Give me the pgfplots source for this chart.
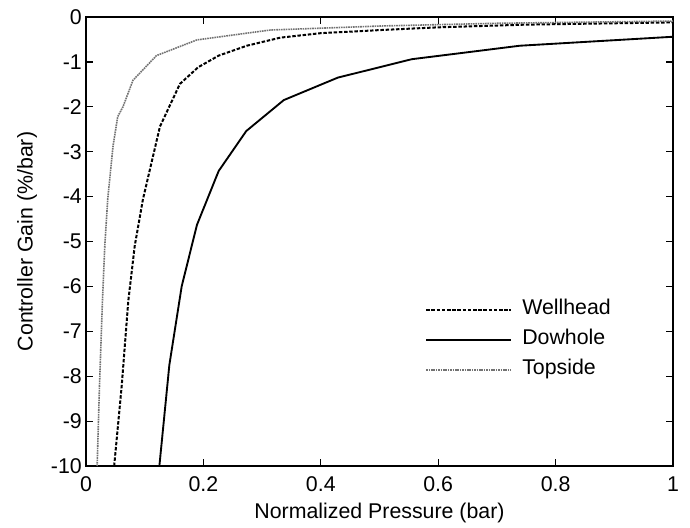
\documentclass[border=0pt]{standalone}
\usepackage{fontspec}
\setmainfont{Liberation Sans}
\usepackage{pgfplots}
\pgfplotsset{compat=1.18}
\newcommand{\ff}{\fontsize{16}{19}\selectfont}
\begin{document}
\begin{tikzpicture}
\path (0,0) rectangle (517.5pt,-396pt);
\begin{axis}[
  at={(64.5pt,-349.5pt)}, anchor=south west,
  scale only axis, width=440.25pt, height=336.75pt,
  xmin=0, xmax=1, ymin=-10, ymax=0,
  axis line style={line width=0.9pt},
  every tick/.style={line width=0.9pt, black},
  major tick length=5pt,
  tick align=inside,
  xtick={0,0.2,0.4,0.6,0.8,1},
  xticklabels={0,0.2,0.4,0.6,0.8,1},
  ytick={-10,-9,-8,-7,-6,-5,-4,-3,-2,-1,0},
  yticklabels={-10,-9,-8,-7,-6,-5,-4,-3,-2,-1,0},
  xticklabel style={font=\ff, inner sep=0pt, anchor=north, yshift=-8pt},
  yticklabel style={font=\ff, inner sep=0pt, anchor=east, xshift=-3pt},
  xlabel={Normalized Pressure (bar)},
  ylabel={Controller Gain (\%/bar)},
  xlabel style={font=\ff, at={(axis description cs:0.5,-0.105)}, anchor=center},
  ylabel style={font=\ff, at={(axis description cs:-0.1005,0.5)}, anchor=center},
  legend style={font=\ff, draw=none, fill=none, inner sep=0pt,
    at={(0.5775,0.373)}, anchor=north west, row sep=6.5pt, column sep=7.5pt,
    nodes={inner sep=0pt, text height=12pt, text depth=4pt, anchor=base west}},
  legend cell align=left,
  legend image code/.code={\draw[#1] (0pt,0.36em) -- (63.75pt,0.36em);},
]
\addplot[black, line width=1.5pt, dash pattern=on 2.6pt off 1.3pt] coordinates {
(0.048,-10) (0.061,-8.19) (0.072,-6.33) (0.083,-5.1) (0.097,-4.06) (0.126,-2.44)
(0.16,-1.49) (0.191,-1.12) (0.226,-0.86) (0.274,-0.64) (0.331,-0.46) (0.4,-0.36)
(0.503,-0.29) (0.6,-0.23) (0.75,-0.17) (1,-0.12)};
\addlegendentry{Wellhead}
\addplot[black, line width=1.4pt] coordinates {
(0.125,-10) (0.142,-7.75) (0.163,-6.0) (0.189,-4.63) (0.226,-3.43) (0.273,-2.54)
(0.337,-1.85) (0.429,-1.35) (0.555,-0.94) (0.739,-0.64) (1,-0.44)};
\addlegendentry{Dowhole}
\addplot[black!55, line width=1.2pt, dash pattern=on 1.2pt off 0.6pt] coordinates {
(0.019,-10) (0.023,-8.2) (0.028,-6.33) (0.032,-5.1) (0.037,-4.06) (0.046,-2.88)
(0.054,-2.22) (0.063,-2.0) (0.08,-1.41) (0.12,-0.86) (0.189,-0.51) (0.274,-0.36)
(0.314,-0.29) (0.503,-0.2) (0.7,-0.14) (1,-0.09)};
\addlegendentry{Topside}
\end{axis}
\end{tikzpicture}
\end{document}
